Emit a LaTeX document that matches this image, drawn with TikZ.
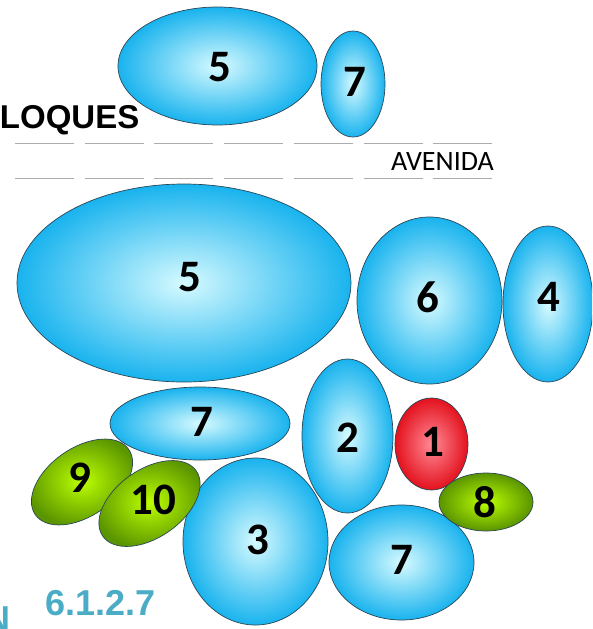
\documentclass[tikz,border=0pt]{standalone}
\usepackage{fontspec}
\usepackage{xcolor}
\usepackage{tikz}
\usetikzlibrary{shapes.geometric}
\newfontfamily\numfont{Carlito}
\newfontfamily\headfont{Liberation Sans}
\definecolor{bluein}{HTML}{D6FAFF}
\definecolor{blueout}{HTML}{19B3EE}
\definecolor{redin}{HTML}{FF8A95}
\definecolor{redout}{HTML}{E3121E}
\definecolor{greenin}{HTML}{BCFF00}
\definecolor{greenout}{HTML}{5A9400}
\definecolor{rimgray}{HTML}{2B4656}
\definecolor{sectblue}{HTML}{4BACC6}

\begin{document}
\begin{tikzpicture}[x=1pt,y=-1pt,
  bubble/.style={ellipse,draw=rimgray,line width=0.7pt,inner sep=0pt},
  blueb/.style={bubble,inner color=bluein,outer color=blueout},
  redb/.style={bubble,inner color=redin,outer color=redout},
  greenb/.style={bubble,inner color=greenin,outer color=greenout},
  num/.style={font=\numfont\bfseries\fontsize{45}{45}\selectfont,inner sep=0pt},
  avenue/.style={gray!65,line width=0.9pt}]
  \path[use as bounding box,clip] (0,0) rectangle (592,629);
  % street
  \foreach \i in {0,...,6}{
    \draw[avenue] (15+69.7*\i,143.5) -- (74+69.7*\i,143.5);
    \draw[avenue] (15+69.7*\i,178.5) -- (74+69.7*\i,178.5);
  }
  \node[font=\numfont\fontsize{28}{28}\selectfont,anchor=base east,inner sep=0pt] (avenida) at (494,170) {AVENIDA};
  \node[font=\headfont\bfseries\fontsize{33}{33}\selectfont,anchor=base east,inner sep=0pt] (bloques) at (139.5,128) {LOQUES};
  \node[font=\headfont\bfseries\fontsize{36}{36}\selectfont,text=sectblue,anchor=base west,inner sep=0pt] (sect) at (45,615) {6.1.2.7};
  \node[font=\headfont\bfseries\fontsize{36}{36}\selectfont,text=sectblue,anchor=base east,inner sep=0pt] (cut) at (11,631) {N};
  % blue blocks
  \foreach \n/\x/\y/\rx/\ry in {top5/217.5/66/99.5/59,top7/353/84/32/53,big5/184/283/167/99,
    six/429.5/300.5/72.5/83.5,four/548/304/45/78,mid7/200/423.5/90/36.5,two/347.5/436/45.5/77,
    three/255.5/541.5/72.5/83.5,low7/401.5/562.5/72.5/57.5}{
    \node[blueb,minimum width=2*\rx,minimum height=2*\ry] (\n) at (\x,\y) {};
  }
  \node[redb,minimum width=73,minimum height=92] (one) at (431.5,444) {};
  \node[greenb,minimum width=114,minimum height=68,rotate=35] (nine) at (82,482) {};
  \node[greenb,minimum width=114,minimum height=68,rotate=35] (ten) at (149.5,503.5) {};
  \node[greenb,minimum width=94,minimum height=58] (eight) at (486,502) {};
  % numbers
  \foreach \n/\x/\y/\t in {t5a/220/67/5,t7a/355/82/7,t5b/190/277/5,t6/428/297/6,t4/549/297/4,
    t7b/202/422/7,t2/348/438/2,t1/433/442/1,t3/258/540/3,t7c/402/560/7,t9/80/478/9,
    t10/153/500/10,t8/485/502/8}{
    \node[num] (\n) at (\x,\y) {\t};
  }
\end{tikzpicture}
\end{document}
